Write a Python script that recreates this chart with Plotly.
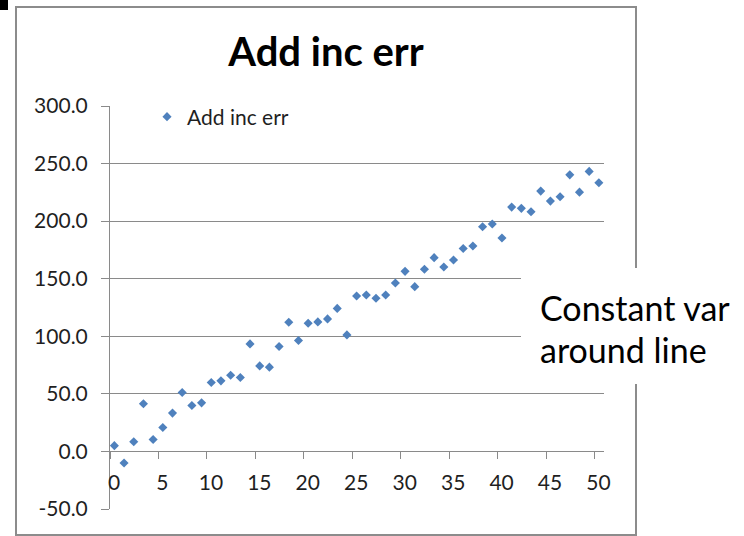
import plotly.graph_objects as go

# Observations: position along the x axis and the value with added error
x_vals = [0.45, 1.45, 2.45, 3.45, 4.45, 5.45, 6.45, 7.45, 8.45, 9.45,
          10.45, 11.45, 12.45, 13.45, 14.45, 15.45, 16.45, 17.45, 18.45, 19.45,
          20.45, 21.45, 22.45, 23.45, 24.45, 25.45, 26.45, 27.45, 28.45, 29.45,
          30.45, 31.45, 32.45, 33.45, 34.45, 35.45, 36.45, 37.45, 38.45, 39.45,
          40.45, 41.45, 42.45, 43.45, 44.45, 45.45, 46.45, 47.45, 48.45, 49.45,
          50.45]
y_vals = [5.0, -10.0, 8.4, 41.4, 10.4, 20.8, 33.3, 51.2, 39.9, 42.2,
          59.8, 61.3, 66.2, 64.2, 93.4, 74.3, 73.2, 91.1, 112.2, 96.3,
          111.3, 112.5, 115.1, 124.2, 101.2, 135.0, 135.9, 133.0, 135.9, 146.3,
          156.4, 143.1, 158.2, 168.3, 160.2, 166.3, 176.2, 178.4, 195.1, 197.5,
          185.3, 212.2, 211.1, 208.1, 226.1, 217.4, 221.2, 240.2, 225.2, 243.2,
          233.3]

series_name = "Add inc err"
chart_title = "Add inc err"
note_lines = ["Constant var", "around line"]

x_ticks = [0, 5, 10, 15, 20, 25, 30, 35, 40, 45, 50]
y_ticks = [-50, 0, 50, 100, 150, 200, 250, 300]
y_ticktext = ["-50.0", "0.0", "50.0", "100.0", "150.0", "200.0", "250.0", "300.0"]

W, H = 744, 536
ML, MR, MT, MB = 110, 140, 106, 27
PW, PH = W - ML - MR, H - MT - MB

def px(xp):
    return (xp - ML) / PW

def py(yp):
    return (H - MB - yp) / PH

FONT = "Lato"
GRID = "#8a8a8a"
TEXT = "#1f1f1f"
BLUE = "#4F81BD"
TICK_SIZE = 21

fig = go.Figure()
fig.add_trace(go.Scatter(
    x=x_vals, y=y_vals, mode="markers", name=series_name,
    marker=dict(symbol="diamond", size=7, color=BLUE),
    showlegend=True,
))

fig.update_layout(
    width=W, height=H,
    margin=dict(l=ML, r=MR, t=MT, b=MB),
    paper_bgcolor="white", plot_bgcolor="white",
    font=dict(family=FONT, color=TEXT),
    title=dict(text="<b>" + chart_title + "</b>", xref="container", yref="container",
               x=326 / W, y=1 - 52 / H, xanchor="center", yanchor="middle",
               font=dict(size=40, color="black", family=FONT)),
    showlegend=True,
    legend=dict(x=px(147), y=py(117), xanchor="left", yanchor="middle",
                bgcolor="white", borderwidth=0,
                font=dict(size=TICK_SIZE, color=TEXT, family=FONT)),
    xaxis=dict(range=[0, 50.98],
               tickvals=x_ticks, showgrid=False, zeroline=False,
               showline=True, linecolor=GRID, linewidth=1,
               ticks="outside", ticklen=7, tickcolor=GRID,
               ticklabelstandoff=5, ticklabelshift=4,
               anchor="free", position=50 / 350,
               tickfont=dict(size=TICK_SIZE, color=TEXT, family=FONT)),
    yaxis=dict(range=[-50, 300], tickvals=y_ticks, ticktext=y_ticktext,
               showgrid=True, gridcolor=GRID, gridwidth=1, zeroline=False,
               showline=True, linecolor=GRID, linewidth=1,
               ticks="outside", ticklen=8, tickcolor=GRID,
               ticklabelstandoff=9,
               tickfont=dict(size=TICK_SIZE, color=TEXT, family=FONT)),
)

# chart frame, corner mark and the white note box
fig.add_shape(type="rect", xref="paper", yref="paper",
              x0=px(16), x1=px(636), y0=py(535), y1=py(7),
              line=dict(color="#8c8c8c", width=2), fillcolor="rgba(0,0,0,0)",
              layer="above")
fig.add_shape(type="rect", xref="paper", yref="paper",
              x0=px(0), x1=px(8), y0=py(10), y1=py(0),
              line=dict(width=0), fillcolor="black", layer="above")
fig.add_shape(type="rect", xref="paper", yref="paper",
              x0=px(521), x1=px(746), y0=py(384), y1=py(268),
              line=dict(width=0), fillcolor="white", layer="above")
for line_text, center in zip(note_lines, [307, 349]):
    fig.add_annotation(text=line_text, xref="paper", yref="paper",
                       x=px(538), y=py(center), xanchor="left", yanchor="middle",
                       align="left", showarrow=False,
                       font=dict(size=34, color="black", family=FONT))

fig.write_html("out.html")
